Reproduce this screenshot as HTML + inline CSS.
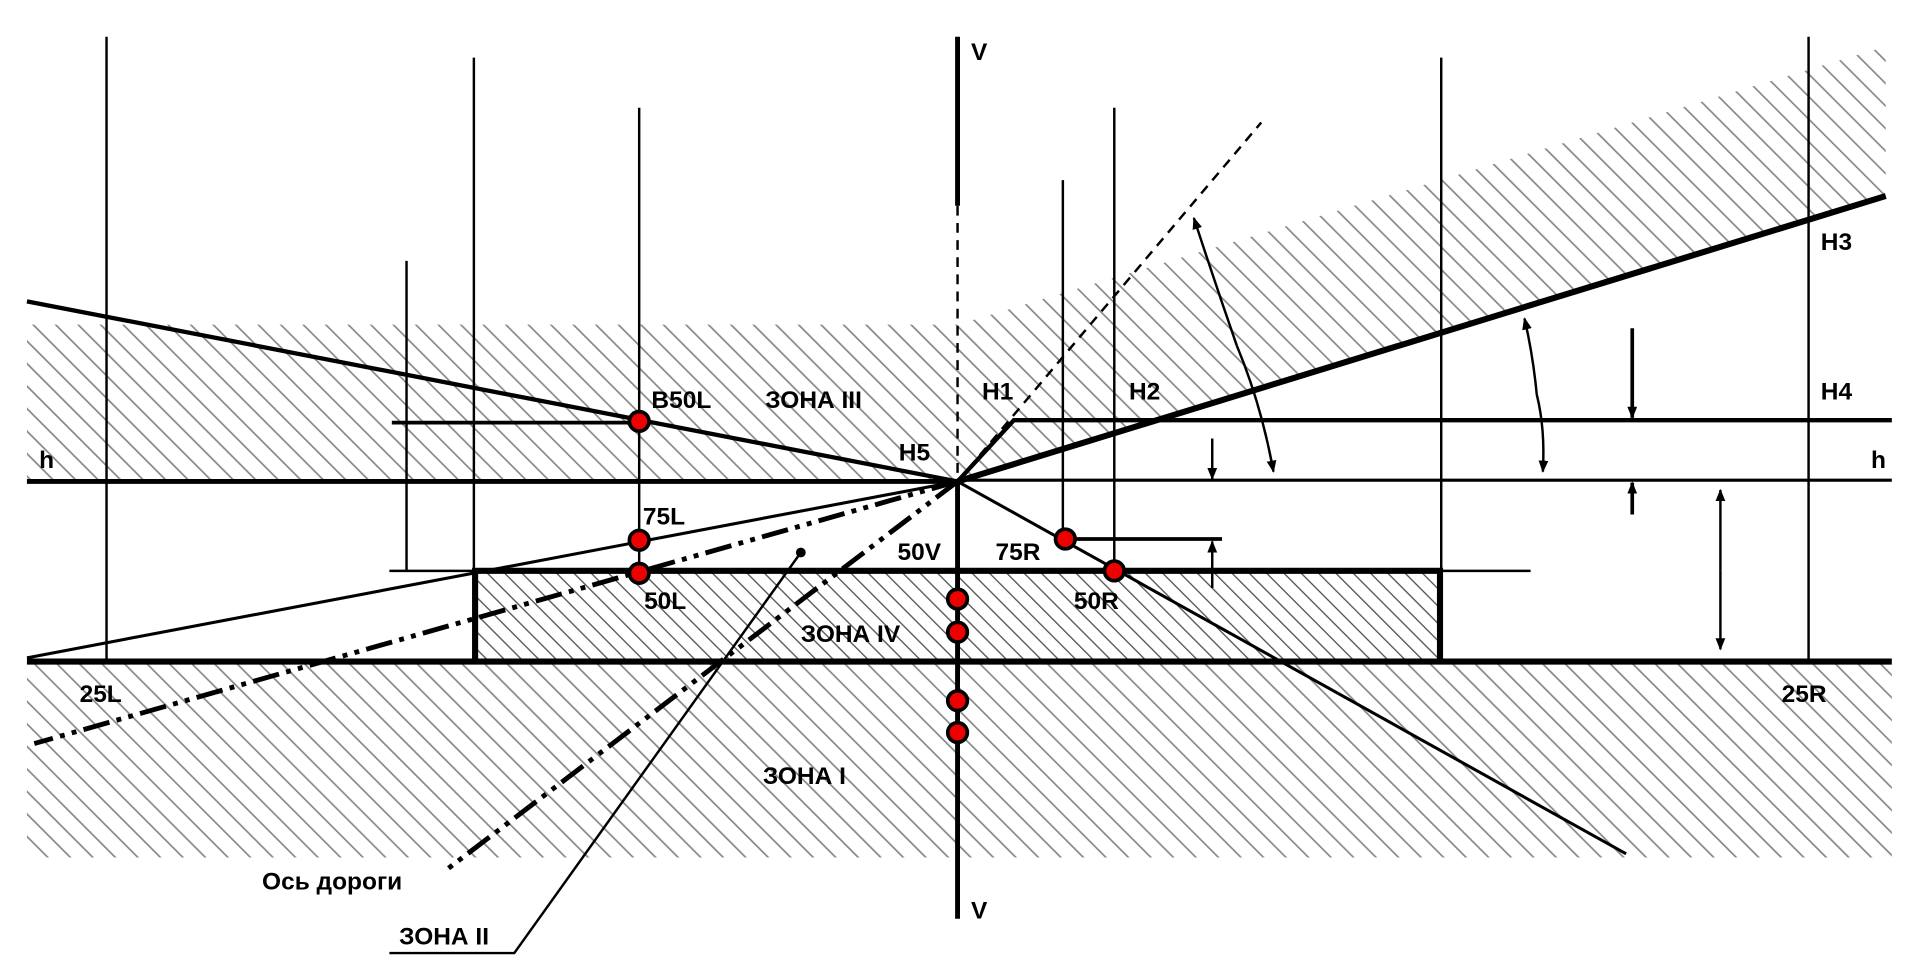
<!DOCTYPE html>
<html><head><meta charset="utf-8"><style>
html,body{margin:0;padding:0;background:#fff;overflow:hidden}
svg{display:block}
text{font-family:"Liberation Sans",Arial,sans-serif;font-weight:bold;font-size:20px;fill:#000}
</style></head><body>
<svg width="1920" height="980" viewBox="0 0 1568 800" preserveAspectRatio="none" xmlns="http://www.w3.org/2000/svg">
<defs>
<pattern id="hA" patternUnits="userSpaceOnUse" width="13" height="13" patternTransform="rotate(-45)">
<line x1="0" y1="0" x2="0" y2="13" stroke="#888" stroke-width="2.8"/></pattern>
<pattern id="hB" patternUnits="userSpaceOnUse" width="10" height="10" patternTransform="rotate(-45)">
<line x1="0" y1="0" x2="0" y2="10" stroke="#555" stroke-width="2.2"/></pattern>
<marker id="ar" markerWidth="10" markerHeight="10" refX="9" refY="5" orient="auto" markerUnits="userSpaceOnUse">
<path d="M0,1 L10,5 L0,9 Z" fill="#000"/></marker>
</defs>
<polygon points="22,265 782,265 1540,38 1540,160 782,393 22,393" fill="url(#hA)"/>
<rect x="22" y="540" width="1523" height="160" fill="url(#hA)"/>
<rect x="388" y="466" width="788" height="74" fill="url(#hB)"/>
<g stroke="#000" fill="none">
<line x1="87" y1="30" x2="87" y2="540" stroke-width="2"/>
<line x1="387" y1="47" x2="387" y2="540" stroke-width="2"/>
<line x1="522" y1="88" x2="522" y2="466" stroke-width="2"/>
<line x1="332" y1="213" x2="332" y2="466" stroke-width="2"/>
<line x1="868" y1="147" x2="868" y2="440" stroke-width="2"/>
<line x1="910" y1="88" x2="910" y2="466" stroke-width="2"/>
<line x1="1177" y1="47" x2="1177" y2="540" stroke-width="2"/>
<line x1="1477" y1="30" x2="1477" y2="540" stroke-width="2"/>
<line x1="782" y1="30" x2="782" y2="168" stroke-width="4"/>
<line x1="782" y1="168" x2="782" y2="393" stroke-width="2" stroke-dasharray="8,6"/>
<line x1="782" y1="393" x2="782" y2="750" stroke-width="4"/>
<line x1="22" y1="393" x2="782" y2="393" stroke-width="4"/>
<line x1="782" y1="392" x2="1545" y2="392" stroke-width="2.5"/>
<polyline points="782,393 828,343 1545,343" stroke-width="3.5"/>
<line x1="782" y1="393" x2="1540" y2="160" stroke-width="5"/>
<line x1="782" y1="393" x2="1030" y2="100" stroke-width="2" stroke-dasharray="8,6"/>
<line x1="22" y1="246" x2="782" y2="393" stroke-width="3.5"/>
<line x1="320" y1="345" x2="522" y2="345" stroke-width="3"/>
<line x1="22" y1="537" x2="782" y2="393" stroke-width="2.5"/>
<line x1="782" y1="393" x2="1328" y2="697" stroke-width="2.5"/>
<line x1="870" y1="440" x2="998" y2="440" stroke-width="3"/>
<line x1="318" y1="466" x2="1250" y2="466" stroke-width="2"/>
<polyline points="388,540 388,466 1176,466 1176,540" stroke-width="5"/>
<line x1="22" y1="540" x2="1545" y2="540" stroke-width="5"/>
<line x1="782" y1="393" x2="28" y2="607" stroke-width="4" stroke-dasharray="22,6,4,6,4,6"/>
<line x1="782" y1="393" x2="362" y2="712" stroke-width="4" stroke-dasharray="22,6,4,6,4,6"/>
<polyline points="654,451 420,778 318,778" stroke-width="2"/>
<line x1="990" y1="358" x2="990" y2="391" stroke-width="2" marker-end="url(#ar)"/>
<line x1="990" y1="480" x2="990" y2="442" stroke-width="2" marker-end="url(#ar)"/>
<line x1="1333" y1="268" x2="1333" y2="341" stroke-width="3" marker-end="url(#ar)"/>
<line x1="1333" y1="420" x2="1333" y2="394" stroke-width="3" marker-end="url(#ar)"/>
<line x1="1405" y1="466" x2="1405" y2="400" stroke-width="2" marker-end="url(#ar)"/>
<line x1="1405" y1="466" x2="1405" y2="530" stroke-width="2" marker-end="url(#ar)"/>
<path d="M1010,282 Q1030,330 1040,385" stroke-width="2" marker-end="url(#ar)"/>
<path d="M1010,282 Q992,230 975,178" stroke-width="2" marker-end="url(#ar)"/>
<path d="M1255,322 Q1262,350 1260,385" stroke-width="2" marker-end="url(#ar)"/>
<path d="M1255,322 Q1252,290 1245,260" stroke-width="2" marker-end="url(#ar)"/>
</g>
<circle cx="654" cy="451" r="4" fill="#000"/>
<g fill="#e00" stroke="#000" stroke-width="3">
<circle cx="522" cy="344" r="8"/><circle cx="522" cy="441" r="8"/><circle cx="522" cy="468" r="8"/>
<circle cx="870" cy="440" r="8"/><circle cx="910" cy="466" r="8"/>
<circle cx="782" cy="489" r="8"/><circle cx="782" cy="516" r="8"/>
<circle cx="782" cy="572" r="8"/><circle cx="782" cy="598" r="8"/>
</g>
<text x="793" y="49">V</text>
<text x="793" y="750">V</text>
<text x="1487" y="204">H3</text>
<text x="1487" y="326">H4</text>
<text x="802" y="326">H1</text>
<text x="922" y="326">H2</text>
<text x="734" y="376">H5</text>
<text x="32" y="382">h</text>
<text x="1528" y="382">h</text>
<text x="532" y="333">B50L</text>
<text x="625" y="333">ЗОНА III</text>
<text x="525" y="428">75L</text>
<text x="526" y="497">50L</text>
<text x="733" y="457">50V</text>
<text x="813" y="457">75R</text>
<text x="877" y="497">50R</text>
<text x="654" y="524">ЗОНА IV</text>
<text x="65" y="573">25L</text>
<text x="1455" y="573">25R</text>
<text x="623" y="640">ЗОНА I</text>
<text x="214" y="726">Ось дороги</text>
<text x="326" y="771">ЗОНА II</text>
</svg>
</body></html>
